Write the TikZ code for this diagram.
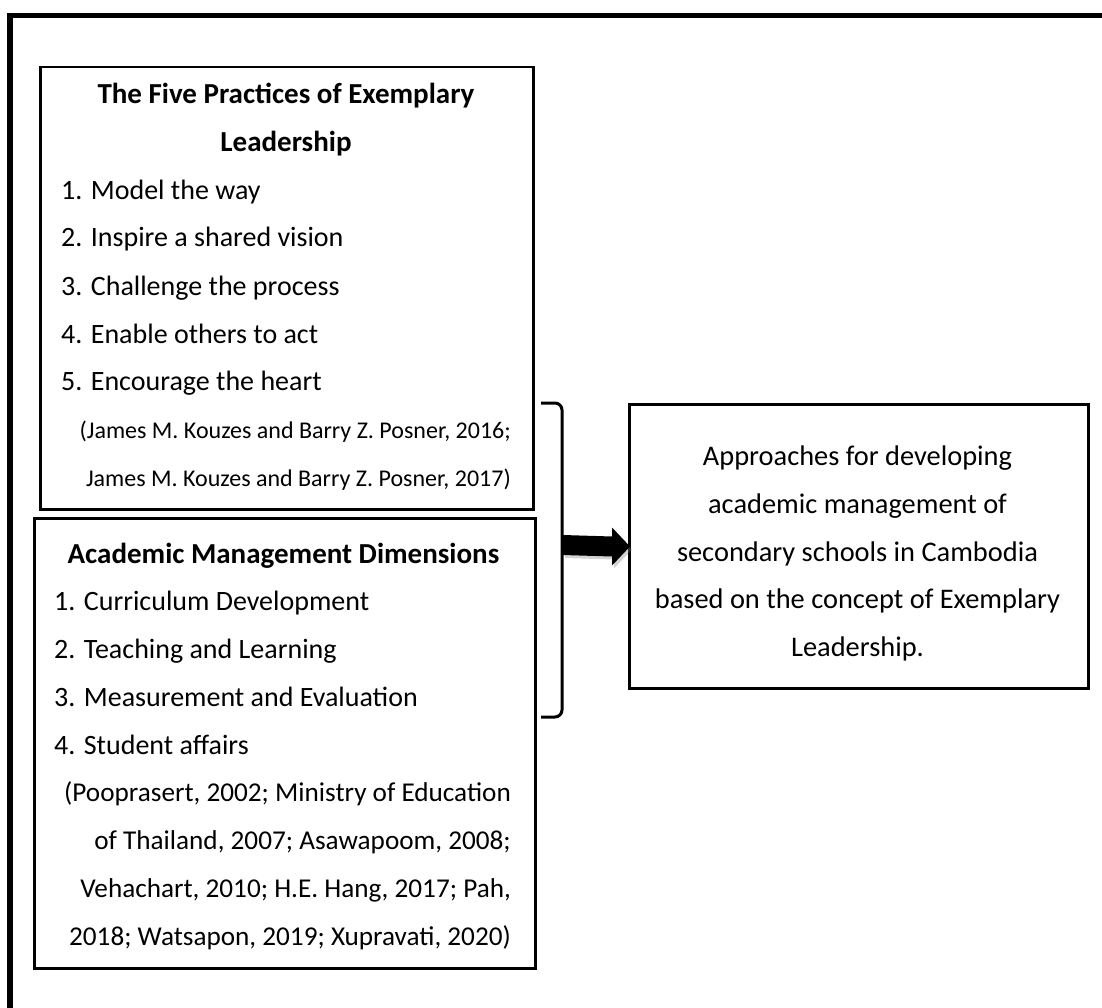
\documentclass[tikz,border=0pt]{standalone}
\usepackage{fontspec}
\setmainfont{Carlito}
\usetikzlibrary{shadows,calc}
\begin{document}
\begin{tikzpicture}[x=1pt,y=-1pt,
  box/.style={draw, line width=2.5pt, inner sep=0pt, anchor=north west},
  txt/.style={inner sep=0pt, font=\fontsize{28}{32}\selectfont},
  cit/.style={inner sep=0pt, font=\fontsize{24}{30}\selectfont},
  citb/.style={inner sep=0pt, font=\fontsize{27.2}{32}\selectfont},
  rtx/.style={inner sep=0pt, font=\fontsize{28.4}{32}\selectfont},
  ttl/.style={inner sep=0pt, font=\fontsize{29}{32}\selectfont\bfseries},
  brk/.style={line width=3pt, rounded corners=7pt}]
\useasboundingbox (0,0) rectangle (1102,1008);
\begin{scope}
\clip (0,0) rectangle (1102,1008);
\draw[line width=5.5pt] (10,1030) -- (10,15.5) -- (1130,15.5);
\end{scope}
% boxes
\node[box, minimum width=493pt, minimum height=442pt] (b1) at (39,66) {};
\node[box, minimum width=501pt, minimum height=450pt] (b2) at (33,517) {};
\node[box, line width=3pt, minimum width=459pt, minimum height=284pt] (rb) at (628,403) {};
% box 1 text
\node[ttl, anchor=base] (t1a) at (286,104) {The Five Practices of Exemplary};
\node[ttl, anchor=base] (t1b) at (286,152) {Leadership};
\node[txt, anchor=base west] (p1) at (61,199.5) {1. Model the way};
\node[txt, anchor=base west] (p2) at (61,247) {2. Inspire a shared vision};
\node[txt, anchor=base west] (p3) at (61,295) {3. Challenge the process};
\node[txt, anchor=base west] (p4) at (61,343) {4. Enable others to act};
\node[txt, anchor=base west] (p5) at (61,390.5) {5. Encourage the heart};
\node[cit, anchor=base east] (c1a) at (511,438) {(James M. Kouzes and Barry Z. Posner, 2016;};
\node[cit, anchor=base east] (c1b) at (511,486) {James M. Kouzes and Barry Z. Posner, 2017)};
% box 2 text
\node[ttl, anchor=base] (t2) at (283.5,563) {Academic Management Dimensions};
\node[txt, anchor=base west] (a1) at (54,610.75) {1. Curriculum Development};
\node[txt, anchor=base west] (a2) at (54,658.5) {2. Teaching and Learning};
\node[txt, anchor=base west] (a3) at (54,706.25) {3. Measurement and Evaluation};
\node[txt, anchor=base west] (a4) at (54,754) {4. Student affairs};
\node[citb, anchor=base east] (c2a) at (511,801.75) {(Pooprasert, 2002; Ministry of Education};
\node[citb, anchor=base east] (c2b) at (511,849.5) {of Thailand, 2007; Asawapoom, 2008;};
\node[citb, anchor=base east] (c2c) at (511,897.25) {Vehachart, 2010; H.E. Hang, 2017; Pah,};
\node[citb, anchor=base east] (c2d) at (511,945) {2018; Watsapon, 2019; Xupravati, 2020)};
% right box text
\node[rtx, anchor=base] (r1) at (857.5,465) {Approaches for developing};
\node[rtx, anchor=base] (r2) at (857.5,513) {academic management of};
\node[rtx, anchor=base] (r3) at (857.5,561) {secondary schools in Cambodia};
\node[rtx, anchor=base] (r4) at (857.5,608) {based on the concept of Exemplary};
\node[rtx, anchor=base] (r5) at (857.5,656) {Leadership.};
% bracket
\coordinate (bt) at (541,403);
\coordinate (bb) at (541,717);
\draw[brk] (bt) -- (562,403) -- (562,717) -- (bb);
% arrow
\coordinate (as) at (563,545);
\fill[black, drop shadow={opacity=0.35, shadow xshift=2pt, shadow yshift=-3pt}]
  ($(as)+(0,-10)$) -- ($(rb.west)+(-16,-10)$) -- ($(rb.west)+(-16,-19)$)
  -- ($(rb.west)+(2,0)$) -- ($(rb.west)+(-16,19)$) -- ($(rb.west)+(-16,10)$)
  -- ($(as)+(0,10)$) -- cycle;
\end{tikzpicture}
\end{document}
